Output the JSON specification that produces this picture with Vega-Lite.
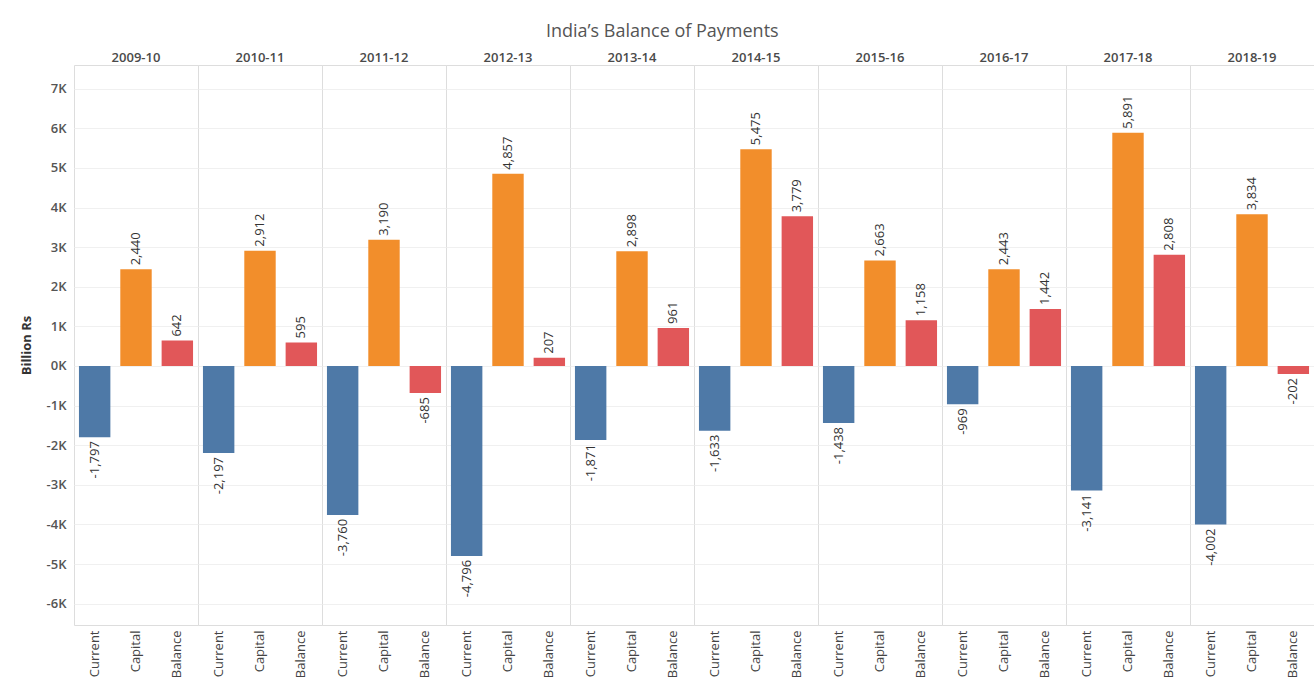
{
  "$schema": "https://vega.github.io/schema/vega-lite/v6.json",
  "padding": {"left": 10, "top": 23, "right": 0, "bottom": 0},
  "background": "white",
  "bounds": "flush",
  "title": {"text": "India’s Balance of Payments", "fontSize": 18, "font": "Open Sans", "fontWeight": "normal", "color": "#555555", "anchor": "middle", "offset": 11},
  "data": {"values": [
    {"year": "2009-10", "type": "Current", "value": -1797},
    {"year": "2009-10", "type": "Capital", "value": 2440},
    {"year": "2009-10", "type": "Balance", "value": 642},
    {"year": "2010-11", "type": "Current", "value": -2197},
    {"year": "2010-11", "type": "Capital", "value": 2912},
    {"year": "2010-11", "type": "Balance", "value": 595},
    {"year": "2011-12", "type": "Current", "value": -3760},
    {"year": "2011-12", "type": "Capital", "value": 3190},
    {"year": "2011-12", "type": "Balance", "value": -685},
    {"year": "2012-13", "type": "Current", "value": -4796},
    {"year": "2012-13", "type": "Capital", "value": 4857},
    {"year": "2012-13", "type": "Balance", "value": 207},
    {"year": "2013-14", "type": "Current", "value": -1871},
    {"year": "2013-14", "type": "Capital", "value": 2898},
    {"year": "2013-14", "type": "Balance", "value": 961},
    {"year": "2014-15", "type": "Current", "value": -1633},
    {"year": "2014-15", "type": "Capital", "value": 5475},
    {"year": "2014-15", "type": "Balance", "value": 3779},
    {"year": "2015-16", "type": "Current", "value": -1438},
    {"year": "2015-16", "type": "Capital", "value": 2663},
    {"year": "2015-16", "type": "Balance", "value": 1158},
    {"year": "2016-17", "type": "Current", "value": -969},
    {"year": "2016-17", "type": "Capital", "value": 2443},
    {"year": "2016-17", "type": "Balance", "value": 1442},
    {"year": "2017-18", "type": "Current", "value": -3141},
    {"year": "2017-18", "type": "Capital", "value": 5891},
    {"year": "2017-18", "type": "Balance", "value": 2808},
    {"year": "2018-19", "type": "Current", "value": -4002},
    {"year": "2018-19", "type": "Capital", "value": 3834},
    {"year": "2018-19", "type": "Balance", "value": -202}
  ]},
  "spacing": 0,
  "facet": {
    "column": {
      "field": "year", "type": "nominal",
      "header": {"title": null, "labelOrient": "top", "labelFont": "Open Sans", "labelFontSize": 13, "labelFontWeight": 600, "labelColor": "#4a4a4a", "labelPadding": 0}
    }
  },
  "spec": {
    "width": 124,
    "height": 560,
    "encoding": {
      "x": {"field": "type", "type": "nominal", "sort": ["Current", "Capital", "Balance"],
        "scale": {"paddingInner": 0.24, "paddingOuter": 0.12},
        "axis": {"title": null, "labelAngle": -90, "labelFont": "Open Sans", "labelFontSize": 13, "labelColor": "#444444", "ticks": false, "domain": false, "labelPadding": 5}},
      "y": {"field": "value", "type": "quantitative",
        "scale": {"domain": [-6540, 7600], "nice": false, "zero": false},
        "axis": {"title": "Billion Rs", "titleFont": "Open Sans", "titleFontSize": 13, "titleFontWeight": "bold", "titleColor": "#333333", "titleX": -41,
          "values": [-6000, -5000, -4000, -3000, -2000, -1000, 0, 1000, 2000, 3000, 4000, 5000, 6000, 7000],
          "labelExpr": "datum.value / 1000 + 'K'", "labelFont": "Open Sans", "labelFontSize": 13, "labelFontWeight": 600, "labelColor": "#555555",
          "ticks": false, "domain": false, "labelPadding": 8, "minExtent": 64, "maxExtent": 64,
          "gridColor": "#f0f0f0"}}
    },
    "layer": [
      {"mark": {"type": "bar"},
        "encoding": {"color": {"field": "type", "type": "nominal", "legend": null,
          "scale": {"domain": ["Current", "Capital", "Balance"], "range": ["#4e79a7", "#f28e2b", "#e15759"]}}}},
      {"transform": [{"filter": "datum.value >= 0"}],
        "mark": {"type": "text", "angle": 270, "align": "left", "baseline": "middle", "dx": 4, "font": "Open Sans", "fontSize": 13, "color": "#333333"},
        "encoding": {"text": {"field": "value", "type": "quantitative", "format": ",d"}}},
      {"transform": [{"filter": "datum.value < 0"}],
        "mark": {"type": "text", "angle": 270, "align": "right", "baseline": "middle", "dx": -4, "font": "Open Sans", "fontSize": 13, "color": "#333333"},
        "encoding": {"text": {"field": "value", "type": "quantitative", "format": ",d"}}}
    ]
  },
  "config": {
    "locale": {"number": {"decimal": ".", "thousands": ",", "grouping": [3], "currency": ["$", ""], "minus": "-"}},
    "view": {"stroke": "#dddddd"},
    "axisX": {"grid": false},
    "axisY": {"grid": true}
  }
}
